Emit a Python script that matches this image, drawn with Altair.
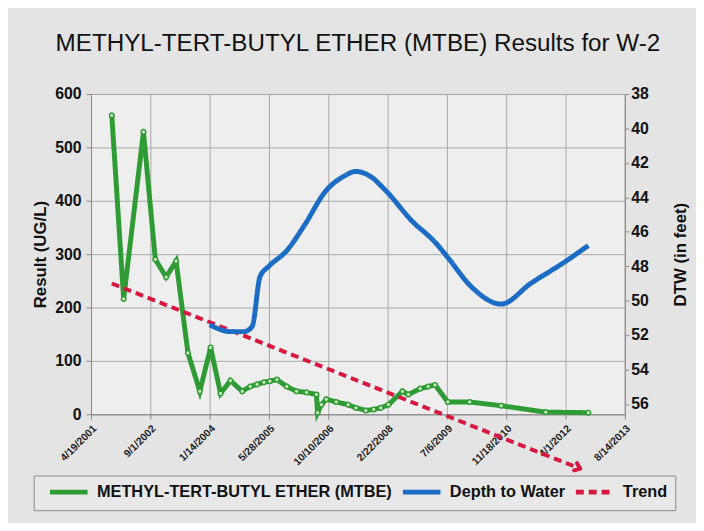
import altair as alt
import pandas as pd

SERIES = ["METHYL-TERT-BUTYL ETHER (MTBE)", "Depth to Water", "Trend"]
COLORS = ["#2e9b34", "#1b6cc4", "#d8173f"]

mtbe_dates = [
    "2001-10-11", "2002-01-19", "2002-07-05", "2002-10-13", "2003-01-12",
    "2003-04-06", "2003-07-15", "2003-10-23", "2004-01-22", "2004-04-15",
    "2004-07-07", "2004-10-15", "2004-12-21", "2005-02-17", "2005-04-16",
    "2005-06-05", "2005-08-03", "2005-10-25", "2006-01-16", "2006-04-10",
    "2006-07-02", "2006-07-12", "2006-08-13", "2006-09-23", "2006-12-16",
    "2007-03-26", "2007-05-31", "2007-08-23", "2007-10-28", "2007-12-26",
    "2008-03-01", "2008-06-26", "2008-08-15", "2008-11-23", "2009-01-29",
    "2009-03-28", "2009-07-14", "2010-01-14", "2010-10-07", "2011-10-17",
    "2012-10-10",
]
mtbe_values = [
    560, 216, 529, 290, 257,
    287, 115, 43, 125, 39,
    63, 43, 52, 56, 60,
    62, 65, 52, 43, 41,
    37, 3, 18, 28, 23,
    18, 12, 7, 9, 12,
    18, 43, 37, 48, 52,
    55, 23, 23, 16, 4,
    3,
]

dtw_dates = [
    "2004-01-14", "2004-07-07", "2004-10-31", "2005-01-06", "2005-03-14",
    "2005-05-28", "2005-10-25", "2006-03-16", "2006-09-23", "2007-02-12",
    "2007-05-31", "2007-10-03", "2008-02-05", "2008-09-18", "2009-03-27",
    "2009-07-14", "2010-01-29", "2010-10-07", "2011-06-13", "2012-03-15",
    "2012-10-10",
]
dtw_values = [
    51.4, 51.8, 51.8, 51.5, 48.6,
    48.0, 47.1, 45.7, 43.6, 42.8,
    42.5, 42.8, 43.6, 45.4, 46.6,
    47.5, 49.2, 50.2, 49.0, 47.8,
    46.8,
]

trend_dates = ["2001-10-11", "2012-08-04"]
trend_values = [245, -102]

x_ticks = [(2001, 4, 19), (2002, 9, 1), (2004, 1, 14), (2005, 5, 28), (2006, 10, 10),
           (2008, 2, 22), (2009, 7, 6), (2010, 11, 18), (2012, 4, 1), (2013, 8, 14)]
left_ticks = [0, 100, 200, 300, 400, 500, 600]
right_ticks = [38, 40, 42, 44, 46, 48, 50, 52, 54, 56]

mtbe_df = pd.DataFrame({"date": mtbe_dates, "result": mtbe_values, "series": SERIES[0]})
dtw_df = pd.DataFrame({"date": dtw_dates, "dtw": dtw_values, "series": SERIES[1]})
trend_df = pd.DataFrame({"date": trend_dates, "result": trend_values, "series": SERIES[2]})
arrow_df = trend_df.tail(1)

FONT = "Liberation Sans"

def dt(t):
    return alt.DateTime(year=t[0], month=t[1], date=t[2], utc=True)

x_enc = alt.X(
    "date:T",
    scale=alt.Scale(type="utc", domain=[dt(x_ticks[0]), dt(x_ticks[-1])]),
    axis=alt.Axis(
        values=[dt(t) for t in x_ticks],
        labelExpr="utcFormat(datum.value, '%-m/%-d/%Y')",
        labelAngle=-45, labelFont=FONT, labelFontSize=10.5, labelFontWeight="bold",
        labelColor="#222", title=None, grid=True, gridColor="#a8a8a8",
        domainColor="#8a8a8a", tickColor="#8a8a8a", tickSize=5, labelPadding=4,
        labelOverlap=False, labelFlush=False,
    ),
)

legend = alt.Legend(
    title=None, orient="none", legendX=-58, legendY=386, direction="horizontal",
    symbolType="M 0 0 L 6.33 0", symbolSize=144, symbolStrokeWidth=5,
    labelFont=FONT, labelFontSize=16.5, labelFontWeight="bold", labelColor="#111",
    strokeColor="#8c8c8c", fillColor="#e8e8e8", padding=8, columnPadding=0,
    labelOffset=39, labelLimit=400,
)
color_enc = alt.Color("series:N", scale=alt.Scale(domain=SERIES, range=COLORS), legend=legend)
dash_enc = alt.StrokeDash("series:N", scale=alt.Scale(domain=SERIES, range=[[1, 0], [1, 0], [8, 5]]), legend=legend)

y_left = alt.Y(
    "result:Q",
    scale=alt.Scale(domain=[0, 600], nice=False),
    axis=alt.Axis(
        values=left_ticks, title="Result (UG/L)", titleFont=FONT, titleFontSize=17,
        titleFontWeight="bold", titleColor="#111", titlePadding=5,
        labelFont=FONT, labelFontSize=16, labelFontWeight="bold", labelColor="#111",
        grid=True, gridColor="#a8a8a8", domainColor="#8a8a8a", tickColor="#8a8a8a",
        tickSize=5, labelPadding=5,
    ),
)

mtbe = alt.Chart(mtbe_df).mark_line(
    strokeWidth=5,
    point=alt.OverlayMarkDef(filled=True, fill="#cfe8bf", stroke="#2e9b34", strokeWidth=1.5, size=22),
).encode(x=x_enc, y=y_left, color=color_enc, strokeDash=dash_enc)

trend = alt.Chart(trend_df).mark_line(strokeWidth=4).encode(
    x=x_enc, y=y_left, color=color_enc, strokeDash=dash_enc
)

arrow = alt.Chart(arrow_df).mark_point(
    shape="M -1 -0.75 L 0 0 L -1 0.75", filled=False, strokeWidth=4, size=110,
    angle=21.5, color=COLORS[2], opacity=1, strokeCap="round", strokeJoin="round",
).encode(x=x_enc, y="result:Q")

left = alt.layer(mtbe, trend, arrow)

y_right = alt.Y(
    "dtw:Q",
    scale=alt.Scale(domain=[38, 56.6], reverse=True, nice=False, zero=False),
    axis=alt.Axis(
        orient="right", values=right_ticks, title="DTW (in feet)", titleAngle=270,
        titleFont=FONT, titleFontSize=17, titleFontWeight="bold", titleColor="#111",
        titleX=56, titleY=162, titleAlign="center", titleBaseline="middle",
        labelFont=FONT, labelFontSize=16, labelFontWeight="bold",
        labelColor="#111", grid=False, domainColor="#8a8a8a", tickColor="#8a8a8a",
        tickSize=4, labelPadding=2,
    ),
)

dtw = alt.Chart(dtw_df).mark_line(strokeWidth=5, interpolate="monotone").encode(
    x=x_enc, y=y_right, color=color_enc, strokeDash=dash_enc
)

chart = alt.layer(left, dtw).resolve_scale(y="independent").properties(
    width=540, height=324,
    autosize=alt.AutoSizeParams(type="none"),
    padding={"left": 84, "top": 84, "right": 72, "bottom": 107},
    title=alt.TitleParams(
        "METHYL-TERT-BUTYL ETHER (MTBE) Results for W-2", font=FONT, fontSize=24.5,
        fontWeight="normal", color="#111", anchor="middle", offset=30,
    ),
).configure(background="#e4e4e4").configure_view(fill="#eeeeee", stroke="#9a9a9a")

chart.save("out.html", embed_options={"renderer": "svg", "actions": False})
